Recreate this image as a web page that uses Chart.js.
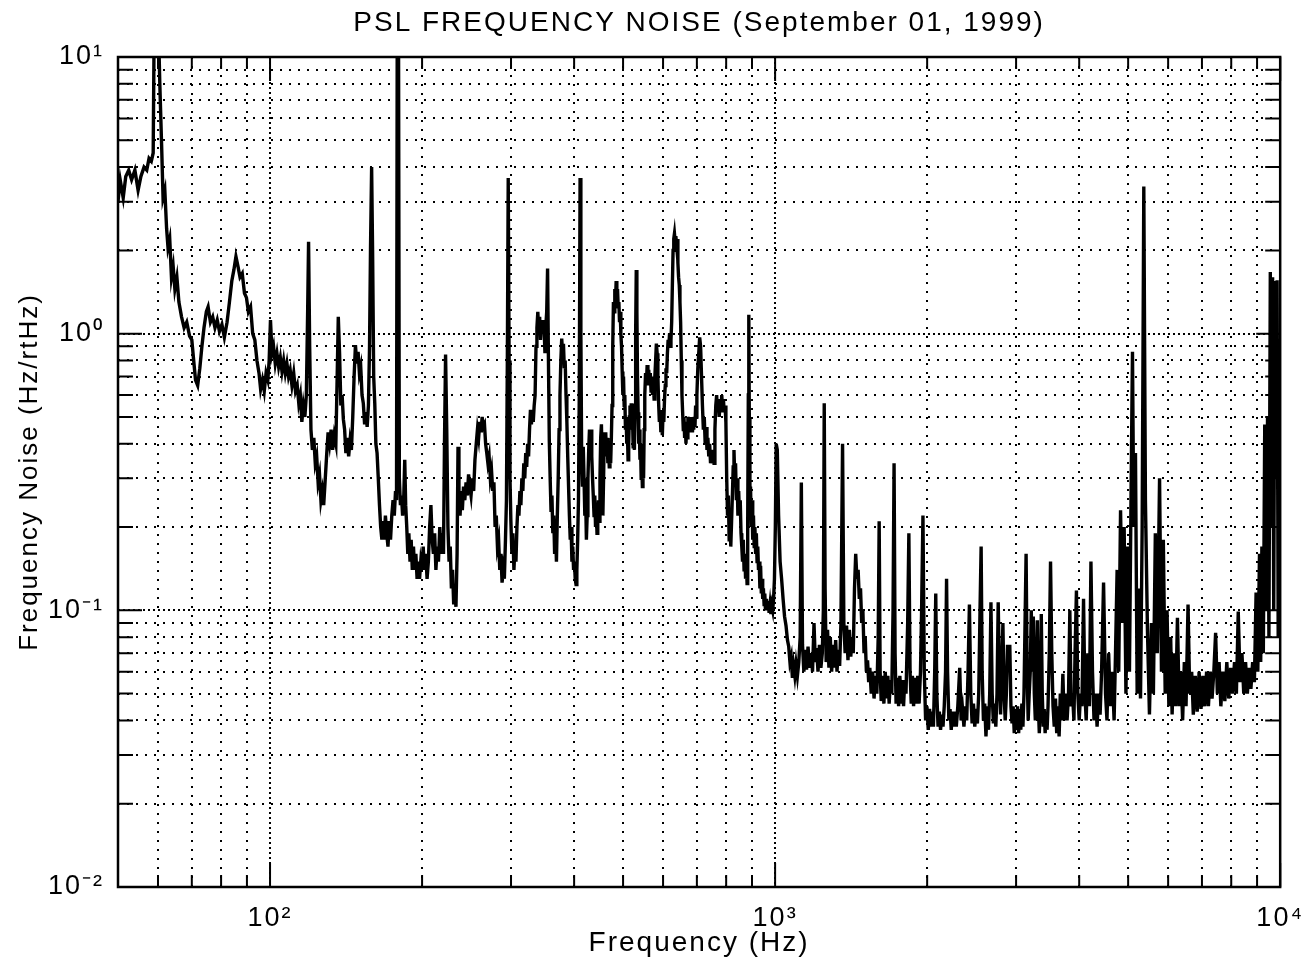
<!DOCTYPE html>
<html>
<head>
<meta charset="utf-8">
<title>PSL Frequency Noise</title>
<script src="https://cdn.jsdelivr.net/npm/chart.js@4.4.1/dist/chart.umd.min.js"></script>
<style>
  html, body { margin: 0; padding: 0; background: #fff; }
  canvas { display: block; }
</style>
</head>
<body>
<canvas id="noiseChart" width="1316" height="974"></canvas>
<script>
// Spectrum: frequency (Hz) and noise (Hz/rtHz), one segment per range
const freqLow = [
  50.0, 50.5, 51.2, 51.8, 52.5, 53.2, 54.0, 54.8, 55.5, 56.3,
  57.0, 57.6, 58.2, 58.7, 59.0, 60.0, 60.5, 61.0, 61.4, 61.9,
  62.4, 62.8, 63.3, 63.8, 64.3, 64.8, 65.4, 66.0, 66.8, 67.6,
  68.4, 69.3, 70.0, 70.6, 71.2, 71.9, 72.6, 73.3, 74.0, 74.8,
  75.4, 76.2, 77.0, 77.8, 78.6, 79.4, 80.3, 81.2, 82.2, 83.1,
  84.0, 84.8, 85.6, 86.4, 87.2, 88.1, 89.0, 89.8, 90.6, 91.5,
  92.4, 93.3, 94.2, 95.1, 95.8, 96.6, 97.4, 98.2, 99.0, 99.6
];
const noiseLow = [
  3.0, 3.6, 3.1, 3.7, 3.9, 3.6, 3.9, 3.3, 3.7, 4.0,
  3.9, 4.3, 4.2, 4.5, 15, 15, 8, 4.8, 3.1, 3.3,
  2.4, 2.05, 2.2, 1.6, 1.75, 1.45, 1.6, 1.3, 1.15, 1.05,
  1.1, 0.98, 0.95, 0.8, 0.68, 0.65, 0.75, 0.9, 1.05, 1.2,
  1.25, 1.1, 1.15, 1.05, 1.12, 1.02, 1.08, 0.97, 1.1, 1.3,
  1.55, 1.7, 1.9, 1.75, 1.6, 1.65, 1.4, 1.35, 1.2, 1.25,
  1.0, 0.95, 0.8, 0.72, 0.63, 0.68, 0.62, 0.72, 0.68, 0.8
];

const freqMid = [
  100.2, 100.9, 101.6, 102.4, 103.2, 104.0, 104.8, 105.6, 106.4, 107.2,
  108.0, 108.8, 109.6, 110.5, 111.4, 112.3, 113.2, 114.0, 114.8, 115.6,
  116.4, 117.2, 118.0, 118.7, 119.2, 119.8, 120.5, 121.3, 122.1, 122.9,
  123.7, 124.5, 125.3, 126.1, 126.9, 127.7, 128.5, 129.4, 130.3, 131.2,
  132.1, 133.0, 134.0, 135.0, 135.8, 136.5, 137.3, 138.1, 138.9, 139.7,
  140.5, 141.3, 142.2, 143.1, 144.0, 144.9, 145.8, 146.7, 147.6, 148.5,
  149.4, 150.3, 151.2, 152.1, 153.0, 153.9, 154.8, 155.7, 156.6, 157.4,
  158.1, 158.9, 159.6, 160.4, 161.2, 162.0, 162.9, 163.8, 164.7, 165.6,
  166.5, 167.4, 168.3, 169.2, 170.2, 171.2, 172.2, 173.2, 174.2, 175.2,
  176.2, 177.2, 178.0, 178.6, 179.6, 180.3, 181.2, 182.1, 183.0, 183.9,
  184.8, 185.6, 186.5, 187.4, 188.3, 189.3, 190.3, 191.3, 192.3, 193.3,
  194.4, 195.5, 196.6, 197.7, 198.8, 199.9, 201.0, 202.2, 203.4, 204.6,
  205.8, 207.0, 208.2, 209.4, 210.6, 211.8, 213.0, 214.2, 215.5, 216.8,
  218.1, 219.4, 220.5, 221.5, 222.6, 223.8, 225.0, 226.2, 227.4, 228.6,
  229.8, 231.0, 232.2, 233.4, 234.6, 235.6, 236.6, 237.8, 239.0, 240.3,
  241.6, 243.0, 244.4, 245.8, 247.2, 248.6, 250.0, 251.5, 253.0, 254.5,
  256.0, 257.4, 258.8, 260.2, 261.6, 263.0, 264.4, 265.8, 267.2, 268.6,
  270.0, 271.5, 273.0, 274.5, 276.0, 277.5, 279.0, 280.5, 282.0, 283.5,
  285.0, 286.5, 288.0, 289.5, 291.0, 292.5, 293.8, 295.0, 296.2, 297.4,
  298.6, 299.8
];
const noiseMid = [
  1.12, 0.85, 0.9, 0.78, 0.85, 0.76, 0.82, 0.73, 0.8, 0.72,
  0.78, 0.7, 0.74, 0.65, 0.72, 0.62, 0.65, 0.56, 0.6, 0.48,
  0.55, 0.5, 0.6, 1.2, 2.15, 0.9, 0.45, 0.38, 0.42, 0.34,
  0.36, 0.29, 0.31, 0.25, 0.27, 0.24, 0.29, 0.36, 0.44, 0.4,
  0.45, 0.38, 0.43, 0.4, 0.7, 1.15, 0.85, 0.55, 0.6, 0.49,
  0.45, 0.37, 0.42, 0.36, 0.41, 0.38, 0.5, 0.7, 0.91, 0.78,
  0.86, 0.72, 0.76, 0.6, 0.56, 0.47, 0.52, 0.46, 0.55, 0.9,
  2.05, 4.0, 2.0, 0.7, 0.56, 0.4, 0.37, 0.3, 0.24, 0.2,
  0.18, 0.21, 0.18, 0.22, 0.19, 0.17, 0.21, 0.18, 0.22, 0.25,
  0.22, 0.27, 0.25, 15, 15, 0.3, 0.24, 0.26, 0.22, 0.25,
  0.35, 0.24, 0.2, 0.16, 0.19, 0.15, 0.18, 0.14, 0.17, 0.14,
  0.16, 0.13, 0.15, 0.13, 0.15, 0.14, 0.17, 0.14, 0.16, 0.13,
  0.15, 0.2, 0.24, 0.18, 0.16, 0.19, 0.14, 0.17, 0.15, 0.2,
  0.16, 0.19, 0.16, 0.4, 0.84, 0.45, 0.2, 0.15, 0.17, 0.12,
  0.14, 0.105, 0.12, 0.103, 0.16, 0.39, 0.25, 0.22, 0.27, 0.23,
  0.28, 0.25, 0.29, 0.26, 0.31, 0.28, 0.26, 0.3, 0.27, 0.35,
  0.4, 0.45, 0.42, 0.48, 0.44, 0.5, 0.46, 0.47, 0.4, 0.37,
  0.34, 0.36, 0.3, 0.32, 0.27, 0.29, 0.2, 0.22, 0.17, 0.18,
  0.14, 0.16, 0.126, 0.14, 0.13, 0.18, 0.25, 0.8, 3.65, 0.8,
  0.3, 0.21
];

const freqHigh = [
  301.2, 302.6, 304.0, 305.4, 306.8, 308.2, 309.6, 311.0, 312.4, 313.8,
  315.2, 316.6, 318.0, 319.4, 320.8, 322.2, 323.6, 325.0, 326.4, 327.8,
  329.2, 330.6, 332.0, 333.4, 334.8, 336.2, 337.6, 339.0, 340.4, 341.8,
  343.2, 344.6, 346.0, 347.4, 348.8, 350.2, 351.6, 353.0, 354.4, 355.8,
  357.2, 358.6, 360.0, 361.5, 363.0, 364.5, 366.0, 367.5, 369.0, 370.5,
  372.0, 373.5, 375.0, 376.5, 378.0, 379.5, 381.0, 382.5, 384.0, 385.5,
  387.0, 388.5, 390.0, 391.5, 393.0, 394.5, 396.0, 397.5, 399.0, 400.5,
  402.0, 403.5, 405.0, 406.5, 408.0, 409.5, 411.0, 412.5, 414.0, 415.5,
  417.0, 418.5, 420.0, 421.5, 423.0, 424.5, 426.0, 427.5, 429.0, 430.5,
  432.0, 433.5, 435.0, 436.5, 438.0, 439.5, 441.0, 442.5, 444.0, 445.5,
  447.0, 448.5, 450.0, 451.5, 453.0, 454.5, 456.0, 457.5, 459.0, 460.5,
  462.0, 463.5, 465.0, 466.5, 468.0, 469.5, 471.0, 472.5, 474.0, 475.5,
  477.0, 478.5, 480.0, 481.5, 483.0, 484.5, 486.0, 487.5, 489.0, 490.5,
  492.0, 493.5, 495.0, 496.5, 498.0, 499.5, 501.0, 502.5, 504.0, 505.5,
  507.0, 508.5, 510.0, 511.5, 513.0, 514.5, 516.0, 517.5, 519.0, 520.5,
  522.0, 523.5, 525.0, 526.5, 528.0, 529.5, 531.0, 532.5, 534.0, 535.5,
  537.0, 538.5, 540.0, 541.5, 543.0, 544.5, 546.0, 547.5, 549.0, 550.5,
  552, 554, 556, 558, 560, 562, 564, 566, 568, 570,
  572, 574, 576, 578, 580, 582, 584, 586, 588, 590,
  592, 594, 596, 598, 600, 602, 604, 606, 608, 610,
  612, 614, 616, 618, 620, 622, 624, 626, 628, 630,
  632, 634, 636, 638, 640, 642, 644, 646, 648, 650,
  652, 654, 656, 658, 660, 662, 664, 666, 668, 670,
  672, 674, 676, 678, 680, 682, 684, 686, 688, 690,
  692, 694, 696, 698, 700, 703, 706, 709, 712, 715,
  718, 721, 724, 727, 730, 733, 736, 739, 742, 745,
  748, 751, 754, 757, 760, 763, 766, 769, 772, 775,
  778, 781, 784, 787, 790, 793, 796, 799, 802, 805,
  808, 811, 814, 817, 820, 823, 826, 829, 832, 835,
  838, 841, 844, 847, 850, 853, 856, 859, 862, 865,
  868, 871, 874, 877, 880, 882.5, 885, 887, 889, 891.5,
  894, 897, 900, 903, 906, 909, 912, 915, 918, 921,
  924, 927, 930, 933, 936, 939, 942, 945, 948, 951,
  954, 957, 961, 965, 969, 973, 977, 981, 985, 989,
  993, 997
];
const noiseHigh = [
  0.16, 0.19, 0.14, 0.17, 0.15, 0.2, 0.24, 0.22, 0.27, 0.24,
  0.3, 0.27, 0.34, 0.3, 0.37, 0.33, 0.4, 0.36, 0.45, 0.53,
  0.47, 0.52, 0.48, 0.55, 0.6, 0.9, 1.05, 1.2, 1.0, 1.15,
  0.95, 1.1, 1.0, 1.12, 1.05, 0.85, 1.07, 1.2, 1.72, 0.8,
  0.41, 0.3, 0.23, 0.26, 0.19, 0.22, 0.16, 0.2, 0.15, 0.22,
  0.3, 0.45, 0.6, 0.8, 0.96, 0.85, 0.92, 0.75, 0.8, 0.6,
  0.48, 0.36, 0.28, 0.22, 0.18, 0.2, 0.15, 0.17, 0.14, 0.15,
  0.13, 0.124, 0.14, 0.18, 0.25, 0.6, 3.65, 1.0, 0.35, 0.28,
  0.39, 0.3, 0.22, 0.26, 0.18, 0.22, 0.3, 0.38, 0.45, 0.42,
  0.45, 0.36, 0.3, 0.26, 0.22, 0.26, 0.2, 0.23, 0.19, 0.22,
  0.25, 0.21, 0.3, 0.42, 0.47, 0.35, 0.22, 0.3, 0.44, 0.4,
  0.44, 0.36, 0.42, 0.34, 0.39, 0.33, 0.38, 0.34, 0.42, 0.55,
  0.9, 1.3, 1.2, 1.45, 1.3, 1.55, 1.35, 1.45, 1.25, 1.3,
  1.1, 1.2, 1.0, 0.9, 0.73, 0.6, 0.7, 0.55, 0.6, 0.45,
  0.5, 0.4, 0.44, 0.35, 0.4, 0.5, 0.55, 0.48, 0.56, 0.45,
  0.5, 0.39, 0.44, 0.38, 0.55, 1.0, 1.7, 1.2, 0.7, 0.52,
  0.4, 0.45, 0.35, 0.4, 0.3, 0.34, 0.28, 0.33, 0.3, 0.45,
  0.6, 0.72, 0.65, 0.77, 0.68, 0.74, 0.65, 0.72, 0.62, 0.7,
  0.6, 0.66, 0.58, 0.7, 0.8, 0.92, 0.85, 0.7, 0.56, 0.48,
  0.53, 0.44, 0.5, 0.43, 0.52, 0.48, 0.58, 0.65, 0.75, 0.72,
  0.85, 0.95, 0.9, 1.0, 0.9, 0.95, 1.1, 1.5, 2.0, 2.2,
  2.3, 2.15, 2.25, 2.1, 2.2, 1.8, 1.6, 1.5, 1.3, 1.1,
  0.8, 0.6, 0.52, 0.45, 0.5, 0.42, 0.48, 0.4, 0.46, 0.42,
  0.5, 0.45, 0.5, 0.44, 0.48, 0.45, 0.5, 0.44, 0.48, 0.45,
  0.5, 0.46, 0.55, 0.5, 0.6, 0.75, 0.85, 0.97, 0.9, 0.7,
  0.55, 0.45, 0.5, 0.4, 0.46, 0.38, 0.42, 0.36, 0.4, 0.34,
  0.38, 0.35, 0.38, 0.34, 0.45, 0.55, 0.6, 0.52, 0.58, 0.5,
  0.56, 0.52, 0.6, 0.54, 0.58, 0.52, 0.55, 0.48, 0.3, 0.22,
  0.26, 0.18, 0.22, 0.17, 0.21, 0.26, 0.33, 0.38, 0.3, 0.34,
  0.25, 0.3, 0.22, 0.27, 0.22, 0.25, 0.19, 0.17, 0.15, 0.18,
  0.14, 0.16, 0.13, 0.15, 0.125, 0.2, 0.6, 1.17, 0.5, 0.22,
  0.28, 0.2, 0.25, 0.18, 0.22, 0.17, 0.2, 0.16, 0.19, 0.15,
  0.17, 0.14, 0.15, 0.12, 0.145, 0.115, 0.13, 0.11, 0.12, 0.105,
  0.115, 0.1, 0.11, 0.1, 0.108, 0.098, 0.105, 0.097, 0.104, 0.1,
  0.11, 0.13
];

const freqKilo = [
  1001, 1005, 1010, 1016, 1023, 1030, 1037, 1044, 1051, 1058,
  1064, 1070, 1076, 1082, 1088, 1094, 1100, 1107, 1114, 1121,
  1127, 1133, 1140, 1147, 1154, 1162, 1170, 1178, 1186, 1194,
  1201, 1208, 1216, 1224, 1232, 1240, 1246, 1251, 1256, 1262,
  1270, 1278, 1286, 1294, 1302, 1310, 1318, 1326, 1334, 1342,
  1350, 1360, 1368, 1376, 1385, 1394, 1403, 1412, 1420, 1428,
  1436, 1444, 1452, 1460, 1468, 1476, 1484, 1492, 1500, 1508,
  1516, 1524, 1532, 1540, 1550, 1560, 1570, 1580, 1590, 1600,
  1607, 1614, 1622, 1632, 1642, 1652, 1662, 1672, 1682, 1692,
  1702, 1712, 1720, 1728, 1736, 1746, 1756, 1766, 1776, 1786,
  1796, 1806, 1816, 1830, 1840, 1850, 1860, 1870, 1880, 1892,
  1904, 1916, 1928, 1940, 1950, 1962, 1974, 1986, 1998, 2010,
  2022, 2034, 2046, 2058, 2070, 2080, 2090, 2102, 2114, 2126,
  2138, 2150, 2162, 2175, 2185, 2195, 2208, 2220, 2232, 2245,
  2258, 2270, 2284, 2300, 2320, 2335, 2350, 2365, 2380, 2395,
  2410, 2425, 2440, 2455, 2470, 2485, 2500, 2515, 2530, 2545,
  2558, 2570, 2585, 2600, 2615, 2630, 2645, 2660, 2675, 2690,
  2705, 2720, 2735, 2750, 2765, 2780, 2795, 2810, 2825, 2840,
  2855, 2870, 2885, 2900, 2915, 2930, 2945, 2960, 2975, 2990,
  3005, 3020, 3035, 3050, 3065, 3080, 3095, 3110, 3125, 3140,
  3155, 3170, 3185, 3200, 3215, 3230, 3245, 3260, 3275, 3290,
  3305, 3320, 3335, 3350, 3365, 3380, 3395, 3410, 3425, 3440,
  3455, 3470, 3490, 3510, 3530, 3550
];
const noiseKilo = [
  0.2, 0.4, 0.38, 0.22, 0.15, 0.13, 0.11, 0.095, 0.088, 0.078,
  0.074, 0.065, 0.068, 0.057, 0.063, 0.058, 0.064, 0.058, 0.065, 0.08,
  0.29, 0.075, 0.06, 0.072, 0.061, 0.074, 0.062, 0.07, 0.06, 0.09,
  0.065, 0.073, 0.06, 0.075, 0.062, 0.07, 0.1, 0.56, 0.12, 0.065,
  0.085, 0.062, 0.08, 0.06, 0.075, 0.062, 0.078, 0.06, 0.072, 0.063,
  0.09, 0.4, 0.09, 0.07, 0.088, 0.066, 0.085, 0.068, 0.08, 0.07,
  0.12, 0.16, 0.13, 0.14, 0.11, 0.12, 0.09, 0.1, 0.07, 0.08,
  0.06, 0.066, 0.055, 0.062, 0.05, 0.06, 0.048, 0.058, 0.05, 0.08,
  0.21, 0.06, 0.047, 0.058, 0.046, 0.06, 0.048, 0.058, 0.046, 0.056,
  0.05, 0.1, 0.34, 0.07, 0.046, 0.057, 0.045, 0.058, 0.046, 0.056,
  0.045, 0.056, 0.05, 0.09, 0.19, 0.06, 0.046, 0.058, 0.045, 0.057,
  0.046, 0.058, 0.046, 0.06, 0.1, 0.22, 0.06, 0.04, 0.045, 0.037,
  0.044, 0.038, 0.043, 0.038, 0.06, 0.115, 0.05, 0.038, 0.043, 0.037,
  0.042, 0.038, 0.045, 0.06, 0.13, 0.06, 0.04, 0.044, 0.037, 0.043,
  0.038, 0.043, 0.038, 0.045, 0.062, 0.04, 0.044, 0.038, 0.045, 0.04,
  0.06, 0.105, 0.05, 0.039, 0.046, 0.038, 0.044, 0.039, 0.05, 0.1,
  0.17, 0.06, 0.04, 0.046, 0.035, 0.045, 0.037, 0.05, 0.107, 0.05,
  0.039, 0.046, 0.038, 0.05, 0.107, 0.06, 0.042, 0.06, 0.09, 0.05,
  0.04, 0.05, 0.075, 0.06, 0.075, 0.045, 0.039, 0.045, 0.036, 0.044,
  0.037, 0.045, 0.036, 0.044, 0.037, 0.046, 0.038, 0.05, 0.09, 0.16,
  0.06, 0.04, 0.05, 0.06, 0.1, 0.06, 0.095, 0.05, 0.04, 0.06,
  0.092, 0.045, 0.036, 0.045, 0.097, 0.05, 0.038, 0.044, 0.036, 0.043,
  0.037, 0.045, 0.07, 0.15, 0.07, 0.045
];

const freqTop = [
  3570, 3590, 3610, 3630, 3650, 3670, 3690, 3713, 3735, 3760,
  3785, 3810, 3833, 3855, 3880, 3905, 3925, 3950, 3975, 4000,
  4025, 4050, 4080, 4105, 4130, 4160, 4190, 4220, 4250, 4280,
  4310, 4340, 4370, 4400, 4430, 4470, 4510, 4540, 4575, 4610,
  4650, 4690, 4720, 4755, 4790, 4830, 4870, 4910, 4950, 4990,
  5030, 5070, 5100, 5130, 5170, 5210, 5250, 5290, 5330, 5370,
  5410, 5460, 5510, 5560, 5610, 5660, 5710, 5770, 5820, 5870,
  5920, 5970, 6020, 6070, 6110, 6160, 6210, 6260, 6310, 6360,
  6410, 6460, 6510, 6570, 6620, 6680, 6730, 6790, 6850, 6910,
  6970, 7030, 7090, 7150, 7210, 7270, 7330, 7390, 7450, 7510,
  7570, 7630, 7700, 7770, 7840, 7910, 7980, 8050, 8120, 8190,
  8260, 8330, 8400, 8470, 8540, 8610, 8680, 8750, 8820, 8890,
  8960, 9030, 9100, 9150, 9200, 9260, 9320, 9380, 9440, 9500,
  9560, 9610, 9660, 9710, 9760, 9810, 9860, 9910, 9960, 10000
];
const noiseTop = [
  0.038, 0.048, 0.036, 0.045, 0.035, 0.05, 0.04, 0.059, 0.04, 0.05,
  0.04, 0.05, 0.1, 0.045, 0.05, 0.04, 0.07, 0.118, 0.05, 0.04,
  0.05, 0.045, 0.11, 0.05, 0.04, 0.07, 0.045, 0.15, 0.06, 0.04,
  0.05, 0.038, 0.05, 0.042, 0.06, 0.126, 0.05, 0.04, 0.07, 0.045,
  0.06, 0.04, 0.07, 0.14, 0.06, 0.23, 0.09, 0.2, 0.05, 0.17,
  0.06, 0.3, 0.86, 0.2, 0.37, 0.05, 0.12, 0.048, 0.2, 3.4,
  0.25, 0.085, 0.042, 0.09, 0.05, 0.19, 0.07, 0.3, 0.06, 0.18,
  0.05, 0.1, 0.045, 0.08, 0.042, 0.07, 0.045, 0.094, 0.045, 0.06,
  0.04, 0.065, 0.045, 0.105, 0.05, 0.06, 0.042, 0.058, 0.043, 0.06,
  0.044, 0.058, 0.045, 0.06, 0.045, 0.06, 0.048, 0.06, 0.083, 0.05,
  0.065, 0.045, 0.06, 0.047, 0.065, 0.048, 0.062, 0.05, 0.065, 0.05,
  0.099, 0.055, 0.07, 0.05, 0.065, 0.05, 0.062, 0.052, 0.065, 0.055,
  0.116, 0.06, 0.16, 0.065, 0.17, 0.07, 0.47, 0.1, 0.5, 0.08,
  1.67, 0.2, 1.6, 0.1, 1.55, 0.3, 1.56, 0.08, 0.7, 0.5
];

const freqHz = [...freqLow, ...freqMid, ...freqHigh, ...freqKilo, ...freqTop];
const noiseHz = [...noiseLow, ...noiseMid, ...noiseHigh, ...noiseKilo, ...noiseTop];

// Axis ticks (grid lines) and the decade labels
const freqTicks = [50, 60, 70, 80, 90, 100, 200, 300, 400, 500, 600, 700, 800, 900,
  1000, 2000, 3000, 4000, 5000, 6000, 7000, 8000, 9000, 10000];
const freqDecades = [100, 1000, 10000];
const freqDecadeLabels = ['10²', '10³', '10⁴'];

const noiseTicks = [0.01, 0.02, 0.03, 0.04, 0.05, 0.06, 0.07, 0.08, 0.09,
  0.1, 0.2, 0.3, 0.4, 0.5, 0.6, 0.7, 0.8, 0.9,
  1, 2, 3, 4, 5, 6, 7, 8, 9, 10];
const noiseDecades = [0.01, 0.1, 1, 10];
const noiseDecadeLabels = ['10⁻²', '10⁻¹', '10⁰', '10¹'];

Chart.defaults.font.family = '"Liberation Sans", Arial, Helvetica, sans-serif';
Chart.defaults.color = '#000';

// Box around the plot with inward tick marks on all four sides
const frameTicks = {
  id: 'frameTicks',
  afterDatasetsDraw(chart) {
    const { ctx, chartArea: area, scales: { x, y } } = chart;
    ctx.save();
    ctx.strokeStyle = '#000';
    ctx.lineWidth = 2;
    ctx.beginPath();
    freqTicks.forEach(v => {
      const px = x.getPixelForValue(v);
      const len = freqDecades.includes(v) ? 24 : 12;
      ctx.moveTo(px, area.bottom);
      ctx.lineTo(px, area.bottom - len);
      ctx.moveTo(px, area.top);
      ctx.lineTo(px, area.top + len);
    });
    noiseTicks.forEach(v => {
      const py = y.getPixelForValue(v);
      const len = noiseDecades.includes(v) ? 24 : 15;
      ctx.moveTo(area.left, py);
      ctx.lineTo(area.left + len, py);
      ctx.moveTo(area.right, py);
      ctx.lineTo(area.right - len, py);
    });
    ctx.stroke();
    ctx.lineWidth = 2.5;
    ctx.strokeRect(area.left, area.top, area.right - area.left, area.bottom - area.top);
    ctx.restore();
  }
};

// The old plot uses widely spaced lettering
const spacedText = {
  id: 'spacedText',
  beforeDraw(chart) { chart.ctx.letterSpacing = '2px'; },
  afterDraw(chart) { chart.ctx.letterSpacing = '0px'; }
};

const gridDash = (decades) => (ctx) =>
  ctx.tick && decades.includes(ctx.tick.value) ? [2, 3] : [2, 7];

new Chart(document.getElementById('noiseChart'), {
  type: 'line',
  data: {
    datasets: [{
      label: 'Frequency noise',
      data: freqHz.map((f, i) => ({ x: f, y: noiseHz[i] })),
      borderColor: '#000',
      borderWidth: 3.4,
      pointRadius: 0,
      tension: 0,
      clip: 0
    }]
  },
  options: {
    responsive: false,
    animation: false,
    events: [],
    layout: { padding: { top: 0, right: 27, bottom: 0, left: 0 } },
    plugins: {
      legend: { display: false },
      tooltip: { enabled: false },
      title: {
        display: true,
        fullSize: false,
        text: 'PSL FREQUENCY NOISE (September 01, 1999)',
        color: '#000',
        font: { size: 28, weight: 'normal' },
        padding: { top: 6, bottom: 17.4 }
      }
    },
    scales: {
      x: {
        type: 'logarithmic',
        min: 50,
        max: 10000,
        afterBuildTicks: (scale) => { scale.ticks = freqTicks.map(v => ({ value: v })); },
        afterFit: (scale) => { scale.height = 87; },
        ticks: {
          autoSkip: false,
          maxRotation: 0,
          minRotation: 0,
          padding: 15,
          font: { size: 27 },
          callback: (v) => {
            const i = freqDecades.indexOf(v);
            return i < 0 ? '' : freqDecadeLabels[i];
          }
        },
        grid: { color: '#000', lineWidth: 2, drawTicks: false },
        border: { display: false, dash: gridDash(freqDecades) },
        title: {
          display: true,
          text: 'Frequency (Hz)',
          font: { size: 28 },
          padding: { top: 0, bottom: 14 }
        }
      },
      y: {
        type: 'logarithmic',
        min: 0.01,
        max: 10,
        afterBuildTicks: (scale) => { scale.ticks = noiseTicks.map(v => ({ value: v })); },
        afterFit: (scale) => { scale.width = 118; },
        ticks: {
          autoSkip: false,
          padding: 14,
          font: { size: 27 },
          callback: (v) => {
            const i = noiseDecades.indexOf(v);
            return i < 0 ? '' : noiseDecadeLabels[i];
          }
        },
        grid: { color: '#000', lineWidth: 2, drawTicks: false },
        border: { display: false, dash: gridDash(noiseDecades) },
        title: {
          display: true,
          text: 'Frequency Noise (Hz/rtHz)',
          font: { size: 26 },
          padding: { top: 14, bottom: 0 }
        }
      }
    }
  },
  plugins: [frameTicks, spacedText]
});
</script>
</body>
</html>
